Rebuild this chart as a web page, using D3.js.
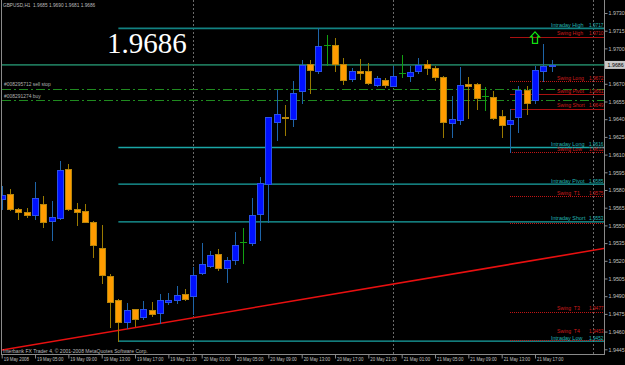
<!DOCTYPE html>
<html><head><meta charset="utf-8">
<script src="https://cdn.jsdelivr.net/npm/d3@7"></script>
<style>html,body{margin:0;padding:0;background:#000;overflow:hidden}svg{display:block}</style>
</head><body><svg id="c" width="625" height="365"></svg>
<script>
// ---------- data ----------
const symbol = "GBPUSD,H1";
const openP  = [1.9572,1.9577,1.9564,1.9561,1.9559,1.9568,1.9554,1.9556,1.9598,1.9564,1.9562,1.9553,1.9531,1.9507,1.9487,1.9468,1.9479,1.9472,1.9478,1.9476,1.9485,1.9487,1.9492,1.9490,1.9510,1.9516,1.9526,1.9514,1.9521,1.9536,1.9535,1.9560,1.9585,1.9638,1.9642,1.9640,1.9664,1.9687,1.9681,1.9703,1.9703,1.9687,1.9674,1.9681,1.9681,1.9669,1.9673,1.9668,1.9679,1.9677,1.9681,1.9687,1.9683,1.9676,1.9637,1.9639,1.9670,1.9670,1.9660,1.9659,1.9643,1.9636,1.9642,1.9665,1.9656,1.9681,1.9685];
const highP  = [1.9583,1.9581,1.9565,1.9565,1.9587,1.9575,1.9571,1.9605,1.9602,1.9569,1.9568,1.9554,1.9550,1.9509,1.9488,1.9484,1.9479,1.9486,1.9485,1.9492,1.9493,1.9499,1.9496,1.9515,1.9535,1.9528,1.9530,1.9523,1.9544,1.9548,1.9573,1.9591,1.9642,1.9665,1.9652,1.9672,1.9690,1.9690,1.9717,1.9711,1.9709,1.9692,1.9683,1.9691,1.9688,1.9677,1.9675,1.9685,1.9694,1.9685,1.9692,1.9690,1.9685,1.9677,1.9660,1.9684,1.9676,1.9671,1.9667,1.9664,1.9648,1.9649,1.9668,1.9668,1.9685,1.9704,1.9690];
const lowP   = [1.9564,1.9563,1.9555,1.9557,1.9555,1.9549,1.9538,1.9555,1.9563,1.9550,1.9553,1.9523,1.9501,1.9464,1.9452,1.9463,1.9465,1.9471,1.9473,1.9467,1.9483,1.9484,1.9487,1.9475,1.9509,1.9515,1.9512,1.9502,1.9517,1.9518,1.9533,1.9538,1.9553,1.9622,1.9627,1.9634,1.9654,1.9662,1.9679,1.9686,1.9681,1.9670,1.9672,1.9674,1.9670,1.9668,1.9667,1.9668,1.9676,1.9672,1.9679,1.9678,1.9673,1.9625,1.9625,1.9636,1.9641,1.9649,1.9648,1.9640,1.9625,1.9612,1.9629,1.9644,1.9654,1.9672,1.9681];
const closeP = [1.9576,1.9564,1.9561,1.9559,1.9573,1.9553,1.9557,1.9597,1.9564,1.9561,1.9553,1.9533,1.9508,1.9485,1.9468,1.9478,1.9471,1.9479,1.9475,1.9487,1.9487,1.9491,1.9488,1.9508,1.9517,1.9525,1.9514,1.9521,1.9533,1.9536,1.9559,1.9586,1.9642,1.9644,1.9641,1.9662,1.9686,1.9682,1.9702,1.9703,1.9687,1.9673,1.9681,1.9679,1.9671,1.9675,1.9669,1.9677,1.9679,1.9680,1.9686,1.9683,1.9676,1.9638,1.9640,1.9669,1.9668,1.9658,1.9660,1.9641,1.9635,1.9639,1.9665,1.9654,1.9682,1.9685,1.9686];

const timeTickBars = [0,4,8,12,16,20,24,28,32,36,40,44,48,52,56,60,64];
const timeLabels = ["19 May 2008","19 May 05:00","19 May 09:00","19 May 13:00","19 May 17:00","19 May 21:00","20 May 01:00","20 May 05:00","20 May 09:00","20 May 13:00","20 May 17:00","20 May 21:00","21 May 01:00","21 May 05:00","21 May 09:00","21 May 13:00","21 May 17:00"];
const separatorBars = [23,47,71];
const priceTicks = [1.9730,1.9715,1.9700,1.9685,1.9670,1.9655,1.9640,1.9625,1.9610,1.9595,1.9580,1.9565,1.9550,1.9535,1.9520,1.9505,1.9490,1.9475,1.9460,1.9445];

const intradayNames  = ["Intraday High","Intraday Long","Intraday Pivot","Intraday Short","Intraday Low"];
const intradayValues = [1.9717,1.9616,1.9585,1.9553,1.9452];
const intradayStartBar = 14;
const swingNames  = ["Swing High","Swing Long","Swing Pivot","Swing Short","Swing Low","Swing  T1","Swing  T2","Swing  T3","Swing  T4"];
const swingValues = [1.9710,1.9672,1.9661,1.9649,1.9612,1.9575,1.9552,1.9477,1.9453];
const swingStartBar = 61;
const swingSolid = ["Swing High","Swing Pivot","Swing Short"];
const swingLabelHidden = ["Swing  T2"];

const orderLabels = ["#008295712 sell stop","#008291274 buy"];
const orderPrices = [1.9666,1.9656];

const trendBars = [14,61];
const trendPrices = [1.9461,1.9517];

const arrowBar = 64, arrowPrice = 1.9714;
const bidPrice = 1.9686;
const copyright = "Interbank FX Trader 4, \u00A9 2001-2008 MetaQuotes Software Corp.";

// ---------- drawing ----------
const svg = d3.select("#c");
svg.append("rect").attr("width",625).attr("height",365).attr("fill","#000");

const x = d3.scaleLinear().domain([0,72]).range([1.7, 1.7+72*8.333]);
const y = d3.scaleLinear().domain([1.9445,1.9730]).range([349.3,13]);
const xL = 2, xR = 604.5, yB = 354.5;
const py = v => Math.round(y(v))+0.5;

svg.append("defs").append("clipPath").attr("id","plot")
  .append("rect").attr("x",xL).attr("y",0).attr("width",xR-xL).attr("height",yB);
const g = svg.append("g").attr("clip-path","url(#plot)");

const smallFont = "'Liberation Sans', Arial, sans-serif";
function condense(sel,k){ sel.each(function(){ const L=this.getComputedTextLength(); d3.select(this).attr("textLength",L*k).attr("lengthAdjust","spacingAndGlyphs"); }); }

// separators
g.selectAll(".sep").data(separatorBars).join("line")
  .attr("x1",d=>Math.round(x(d))+0.5).attr("x2",d=>Math.round(x(d))+0.5)
  .attr("y1",0).attr("y2",yB).attr("stroke","#6a6a6a").attr("stroke-dasharray","2,2");

// order lines
g.selectAll(".ord").data(orderPrices).join("line")
  .attr("x1",xL).attr("x2",xR).attr("y1",d=>py(d)).attr("y2",d=>py(d))
  .attr("stroke","#1f8a1f").attr("stroke-dasharray","9,3,2,3").attr("shape-rendering","crispEdges");

// intraday lines
g.selectAll(".intra").data(intradayValues).join("line")
  .attr("x1",x(intradayStartBar)).attr("x2",xR).attr("y1",d=>y(d)).attr("y2",d=>y(d))
  .attr("stroke",(d,i)=>i===0?"#128282":"#1aa6a6").attr("stroke-width",(d,i)=>i===0?1.8:1.3);

// swing lines
g.selectAll(".swing").data(swingValues).join("line")
  .attr("x1",x(swingStartBar)).attr("x2",xR).attr("y1",d=>py(d)).attr("y2",d=>py(d))
  .attr("stroke",(d,i)=>swingSolid.includes(swingNames[i])?"#a81010":"#c01414")
  .attr("stroke-dasharray",(d,i)=>swingSolid.includes(swingNames[i])?null:"1,1")
  .attr("shape-rendering","crispEdges");

// bid line
g.append("line").attr("x1",xL).attr("x2",xR).attr("y1",y(bidPrice)).attr("y2",y(bidPrice))
  .attr("stroke","#1d7458").attr("stroke-width",1.8);

// trend line
const tl = d3.scaleLinear().domain(trendBars).range(trendPrices);
g.append("line").attr("x1",x(-1)).attr("x2",x(74)).attr("y1",y(tl(-1))).attr("y2",y(tl(74)))
  .attr("stroke","#e81010").attr("stroke-width",1.6);

// candles
const bars = d3.range(openP.length).map(i=>({i,o:openP[i],h:highP[i],l:lowP[i],c:closeP[i]}));
const cg = g.append("g").attr("shape-rendering","crispEdges");
bars.forEach(b=>{
  const cx = Math.round(x(b.i))+0.5;
  const up = b.c>b.o, dn = b.c<b.o;
  const wick = up?"#1e64a8":dn?"#9a7a00":"#12a012";
  cg.append("line").attr("x1",cx).attr("x2",cx).attr("y1",Math.round(y(b.h))).attr("y2",Math.round(y(b.l))+1).attr("stroke",wick);
  if(up||dn){
    const t = Math.round(y(Math.max(b.o,b.c))), bt = Math.round(y(Math.min(b.o,b.c)));
    cg.append("rect").attr("x",cx-3).attr("y",t+0.5).attr("width",6).attr("height",Math.max(bt-t,1))
      .attr("fill",up?"#0010ff":"#ff9c00").attr("stroke",up?"#2a50e8":"#b8860b");
  } else {
    const yy = Math.round(y(b.o))+0.5;
    cg.append("line").attr("x1",cx-3.5).attr("x2",cx+3.5).attr("y1",yy).attr("y2",yy).attr("stroke",wick);
  }
});

// arrow
const ax0 = x(arrowBar), ay0 = y(arrowPrice);
g.append("path").attr("d",`M${ax0},${ay0} l4.5,5 h-2 v6.5 h-5 v-6.5 h-2 z`)
  .attr("fill","none").attr("stroke","#10e010").attr("stroke-width",1.3);

// level labels
const lbl = svg.append("g").style("font-family",smallFont).style("font-size","5.6px");
const intraNameT = lbl.selectAll(".inm").data(intradayNames).join("text")
  .attr("x",551).attr("y",(d,i)=>y(intradayValues[i])-1.5).attr("fill","#22b4b4").text(d=>d);
condense(intraNameT,0.98);
const intraValT = lbl.selectAll(".ivl").data(intradayValues).join("text")
  .attr("x",603.5).attr("text-anchor","end").attr("y",d=>y(d)-1.5).attr("fill","#22b4b4").text(d=>d.toFixed(4));
condense(intraValT,0.85);
const swingIdx = d3.range(swingNames.length).filter(i=>!swingLabelHidden.includes(swingNames[i]));
const swOff = i => swingNames[i]==="Swing  T4" ? -7 : -1.2;
const swNameT = lbl.selectAll(".snm").data(swingIdx).join("text")
  .attr("x",557).attr("y",i=>y(swingValues[i])+swOff(i)).attr("fill","#d01c1c").style("white-space","pre").text(i=>swingNames[i]);
condense(swNameT,0.92);
const swValT = lbl.selectAll(".svl").data(swingIdx).join("text")
  .attr("x",603.5).attr("text-anchor","end").attr("y",i=>y(swingValues[i])+swOff(i)).attr("fill","#d01c1c").text(i=>swingValues[i].toFixed(4));
condense(swValT,0.85);

// order labels
const ordT = lbl.selectAll(".olb").data(orderLabels).join("text")
  .attr("x",4).attr("y",(d,i)=>y(orderPrices[i])-2.5).attr("fill","#b0b0b0").text(d=>d);
condense(ordT,0.88);

// big price text
svg.append("text").attr("x",107).attr("y",53).attr("fill","#ffffff")
  .style("font-family","'Liberation Serif','Times New Roman',serif").style("font-size","29px")
  .text(bidPrice.toFixed(4));

// title & copyright
const last = bars[bars.length-1];
const titleT = svg.append("text").attr("x",3).attr("y",7).attr("fill","#bcbcbc")
  .style("font-family",smallFont).style("font-size","5.6px").style("white-space","pre")
  .text(`${symbol}  ${last.o.toFixed(4)} ${last.h.toFixed(4)} ${last.l.toFixed(4)} ${last.c.toFixed(4)}`);
condense(titleT,0.85);
const copyT = svg.append("text").attr("x",3).attr("y",353).attr("fill","#bcbcbc")
  .style("font-family",smallFont).style("font-size","5.6px").text(copyright);
condense(copyT,0.9);

// frame
svg.append("path").attr("d",`M${xL-0.5},-1 V${yB} H${xR} V-1`).attr("fill","none").attr("stroke","#8a8a8a").attr("shape-rendering","crispEdges");

// axes
const xAxis = d3.axisBottom(x).tickValues(timeTickBars).tickFormat((d,i)=>timeLabels[i]).tickSize(4).tickPadding(1);
const axg = svg.append("g").attr("transform",`translate(0,${yB})`).call(xAxis);
axg.select(".domain").remove();
axg.selectAll("line").attr("stroke","#8a8a8a");
axg.selectAll("text").attr("text-anchor","start").attr("x",1.5).attr("y",2.5).attr("dy","0.71em")
  .attr("fill","#c0c0c0").style("font-family",smallFont).style("font-size","5.6px");
condense(axg.selectAll("text"),0.78);

const yAxis = d3.axisRight(y).tickValues(priceTicks).tickFormat(d3.format(".4f")).tickSize(3).tickPadding(1);
const ayg = svg.append("g").attr("transform",`translate(${xR},0)`).call(yAxis);
ayg.select(".domain").remove();
ayg.selectAll("line").attr("stroke","#8a8a8a");
ayg.selectAll("text").attr("fill","#c0c0c0").style("font-family",smallFont).style("font-size","5.6px");
condense(ayg.selectAll("text"),0.95);

// bid price box
const by = y(bidPrice);
svg.append("rect").attr("x",xR+0.5).attr("y",by-4).attr("width",20).attr("height",8).attr("fill","#c8c8c8");
const bidT = svg.append("text").attr("x",xR+3).attr("y",by+2).attr("fill","#000")
  .style("font-family",smallFont).style("font-size","5.6px").text(bidPrice.toFixed(4));
condense(bidT,0.95);
</script></body></html>
